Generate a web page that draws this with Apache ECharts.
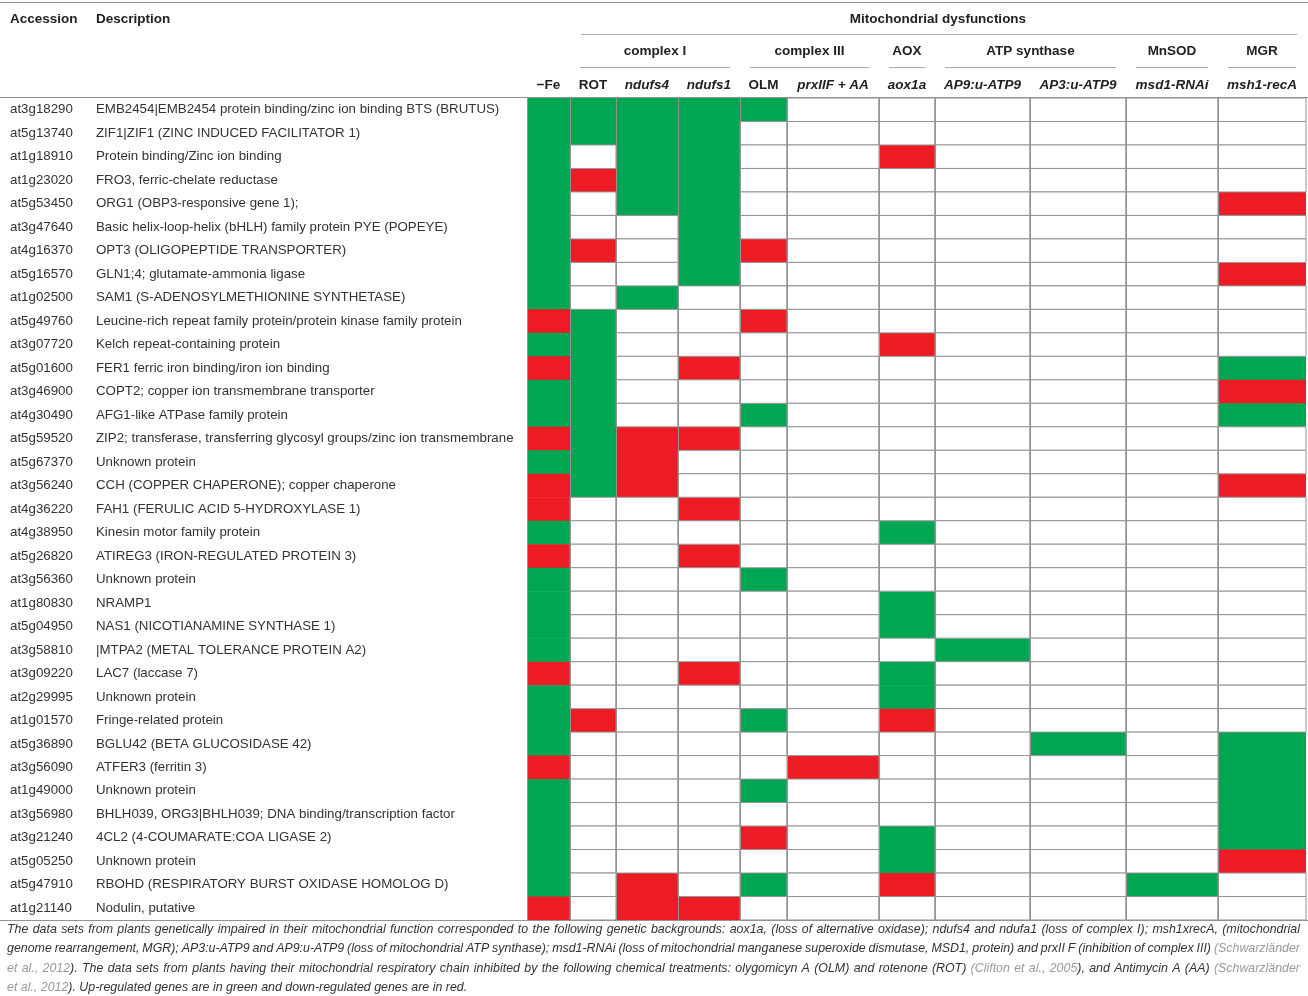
<!DOCTYPE html>
<html>
<head>
<meta charset="utf-8">
<title>Mitochondrial dysfunctions</title>
<script src="https://cdn.jsdelivr.net/npm/echarts@6/dist/echarts.min.js"></script>
<style>
html, body { margin: 0; padding: 0; background: #fff; }
#main { width: 1308px; height: 996px; }
</style>
</head>
<body>
<div id="main"></div>
<script>
// rows of the table
var accessions = [
    'at3g18290', 'at5g13740', 'at1g18910', 'at1g23020', 'at5g53450', 'at3g47640', 'at4g16370',
    'at5g16570', 'at1g02500', 'at5g49760', 'at3g07720', 'at5g01600', 'at3g46900', 'at4g30490',
    'at5g59520', 'at5g67370', 'at3g56240', 'at4g36220', 'at4g38950', 'at5g26820', 'at3g56360',
    'at1g80830', 'at5g04950', 'at3g58810', 'at3g09220', 'at2g29995', 'at1g01570', 'at5g36890',
    'at3g56090', 'at1g49000', 'at3g56980', 'at3g21240', 'at5g05250', 'at5g47910', 'at1g21140'
];
var descriptions = [
    'EMB2454|EMB2454 protein binding/zinc ion binding BTS (BRUTUS)',
    'ZIF1|ZIF1 (ZINC INDUCED FACILITATOR 1)',
    'Protein binding/Zinc ion binding',
    'FRO3, ferric-chelate reductase',
    'ORG1 (OBP3-responsive gene 1);',
    'Basic helix-loop-helix (bHLH) family protein PYE (POPEYE)',
    'OPT3 (OLIGOPEPTIDE TRANSPORTER)',
    'GLN1;4; glutamate-ammonia ligase',
    'SAM1 (S-ADENOSYLMETHIONINE SYNTHETASE)',
    'Leucine-rich repeat family protein/protein kinase family protein',
    'Kelch repeat-containing protein',
    'FER1 ferric iron binding/iron ion binding',
    'COPT2; copper ion transmembrane transporter',
    'AFG1-like ATPase family protein',
    'ZIP2; transferase, transferring glycosyl groups/zinc ion transmembrane',
    'Unknown protein',
    'CCH (COPPER CHAPERONE); copper chaperone',
    'FAH1 (FERULIC ACID 5-HYDROXYLASE 1)',
    'Kinesin motor family protein',
    'ATIREG3 (IRON-REGULATED PROTEIN 3)',
    'Unknown protein',
    'NRAMP1',
    'NAS1 (NICOTIANAMINE SYNTHASE 1)',
    '|MTPA2 (METAL TOLERANCE PROTEIN A2)',
    'LAC7 (laccase 7)',
    'Unknown protein',
    'Fringe-related protein',
    'BGLU42 (BETA GLUCOSIDASE 42)',
    'ATFER3 (ferritin 3)',
    'Unknown protein',
    'BHLH039, ORG3|BHLH039; DNA binding/transcription factor',
    '4CL2 (4-COUMARATE:COA LIGASE 2)',
    'Unknown protein',
    'RBOHD (RESPIRATORY BURST OXIDASE HOMOLOG D)',
    'Nodulin, putative'
];

// column headers
var columns = ['−Fe', 'ROT', 'ndufs4', 'ndufs1', 'OLM', 'prxIIF + AA', 'aox1a',
    'AP9:u-ATP9', 'AP3:u-ATP9', 'msd1-RNAi', 'msh1-recA'];
var italicColumns = [false, false, true, true, false, true, true, true, true, true, true];
var groupNames = ['complex I', 'complex III', 'AOX', 'ATP synthase', 'MnSOD', 'MGR'];
var groupFirst = [1, 4, 6, 7, 9, 10];
var groupLast  = [3, 5, 6, 8, 9, 10];

// 1 = up-regulated (green), -1 = down-regulated (red), 0 = no change
var fe     = [1, 1, 1, 1, 1, 1, 1, 1, 1, -1, 1, -1, 1, 1, -1, 1, -1, -1, 1, -1, 1, 1, 1, 1, -1, 1, 1, 1, -1, 1, 1, 1, 1, 1, -1];
var rot    = [1, 1, 0, -1, 0, 0, -1, 0, 0, 1, 1, 1, 1, 1, 1, 1, 1, 0, 0, 0, 0, 0, 0, 0, 0, 0, -1, 0, 0, 0, 0, 0, 0, 0, 0];
var ndufs4 = [1, 1, 1, 1, 1, 0, 0, 0, 1, 0, 0, 0, 0, 0, -1, -1, -1, 0, 0, 0, 0, 0, 0, 0, 0, 0, 0, 0, 0, 0, 0, 0, 0, -1, -1];
var ndufs1 = [1, 1, 1, 1, 1, 1, 1, 1, 0, 0, 0, -1, 0, 0, -1, 0, 0, -1, 0, -1, 0, 0, 0, 0, -1, 0, 0, 0, 0, 0, 0, 0, 0, 0, -1];
var olm    = [1, 0, 0, 0, 0, 0, -1, 0, 0, -1, 0, 0, 0, 1, 0, 0, 0, 0, 0, 0, 1, 0, 0, 0, 0, 0, 1, 0, 0, 1, 0, -1, 0, 1, 0];
var prxAA  = [0, 0, 0, 0, 0, 0, 0, 0, 0, 0, 0, 0, 0, 0, 0, 0, 0, 0, 0, 0, 0, 0, 0, 0, 0, 0, 0, 0, -1, 0, 0, 0, 0, 0, 0];
var aox1a  = [0, 0, -1, 0, 0, 0, 0, 0, 0, 0, -1, 0, 0, 0, 0, 0, 0, 0, 1, 0, 0, 1, 1, 0, 1, 1, -1, 0, 0, 0, 0, 1, 1, -1, 0];
var ap9    = [0, 0, 0, 0, 0, 0, 0, 0, 0, 0, 0, 0, 0, 0, 0, 0, 0, 0, 0, 0, 0, 0, 0, 1, 0, 0, 0, 0, 0, 0, 0, 0, 0, 0, 0];
var ap3    = [0, 0, 0, 0, 0, 0, 0, 0, 0, 0, 0, 0, 0, 0, 0, 0, 0, 0, 0, 0, 0, 0, 0, 0, 0, 0, 0, 1, 0, 0, 0, 0, 0, 0, 0];
var msd1   = [0, 0, 0, 0, 0, 0, 0, 0, 0, 0, 0, 0, 0, 0, 0, 0, 0, 0, 0, 0, 0, 0, 0, 0, 0, 0, 0, 0, 0, 0, 0, 0, 0, 1, 0];
var msh1   = [0, 0, 0, 0, -1, 0, 0, -1, 0, 0, 0, 1, -1, 1, 0, 0, -1, 0, 0, 0, 0, 0, 0, 0, 0, 0, 0, 1, 1, 1, 1, 1, -1, 0, 0];
var columnValues = [fe, rot, ndufs4, ndufs1, olm, prxAA, aox1a, ap9, ap3, msd1, msh1];

// caption, [text, isCitation]
var captionLines = [
    [['The data sets from plants genetically impaired in their mitochondrial function corresponded to the following genetic backgrounds: aox1a, (loss of alternative oxidase); ndufs4 and ndufa1 (loss of complex I); msh1xrecA, (mitochondrial', 0]],
    [['genome rearrangement, MGR); AP3:u-ATP9 and AP9:u-ATP9 (loss of mitochondrial ATP synthase); msd1-RNAi (loss of mitochondrial manganese superoxide dismutase, MSD1, protein) and prxII F (inhibition of complex III) ', 0], ['(Schwarzländer', 1]],
    [['et al., 2012', 1], ['). The data sets from plants having their mitochondrial respiratory chain inhibited by the following chemical treatments: olygomicyn A (OLM) and rotenone (ROT) ', 0], ['(Clifton et al., 2005', 1], ['), and Antimycin A (AA) ', 0], ['(Schwarzländer', 1]],
    [['et al., 2012', 1], ['). Up-regulated genes are in green and down-regulated genes are in red.', 0]]
];

// layout
var GRID_LEFT = 527, GRID_TOP = 98, GRID_BOTTOM = 920, W = 1308;
var colEdges = [0, 43, 89, 151, 213, 260, 352, 408, 503, 599, 691, 779];
var GREEN = '#00a651', RED = '#ed1c24', LINE = '#939393';
var FONT = '"Liberation Sans", Arial, sans-serif';
var TEXT = '#333';

var colored = [], blank = [];
columnValues.forEach(function (vals, c) {
    vals.forEach(function (v, r) {
        (v === 0 ? blank : colored).push([c, r, v]);
    });
});

function cellShape(api) {
    var c = api.value(0), r = api.value(1);
    var p0 = api.coord([colEdges[c], r]);
    var p1 = api.coord([colEdges[c + 1], r]);
    var h = api.size([0, 1])[1];
    return { x: p0[0], y: p0[1] - h / 2, width: p1[0] - p0[0], height: h };
}

function renderColored(params, api) {
    var s = cellShape(api);
    s.height += 0.6;
    return { type: 'rect', shape: s, style: { fill: api.value(2) > 0 ? GREEN : RED } };
}

function renderBlank(params, api) {
    return { type: 'rect', shape: cellShape(api), style: { fill: '#fff', stroke: LINE, lineWidth: 1 } };
}

function renderVLine(params, api) {
    var h = api.size([0, 1])[1];
    var top = api.coord([api.value(0), 0]);
    var bot = api.coord([api.value(0), accessions.length - 1]);
    var x = Math.round(top[0]) + 0.5;
    return {
        type: 'line',
        shape: { x1: x, y1: top[1] - h / 2, x2: x, y2: bot[1] + h / 2 },
        style: { stroke: LINE, lineWidth: 1 }
    };
}

function px(v) { return GRID_LEFT + v; }

var graphics = [];
function hline(x1, x2, y, color) {
    graphics.push({ type: 'line', shape: { x1: x1, y1: y + 0.5, x2: x2, y2: y + 0.5 },
        style: { stroke: color || LINE, lineWidth: 1 }, z: 10 });
}
function label(text, x, y, align, italic) {
    graphics.push({ type: 'text', x: x, y: y, z: 10, style: {
        text: text, fill: '#222', align: align, verticalAlign: 'middle',
        fontSize: 13.5, fontWeight: 'bold', fontStyle: italic ? 'italic' : 'normal', fontFamily: FONT
    } });
}

hline(0, W, 2);
hline(0, W, GRID_TOP - 1);
hline(0, W, GRID_BOTTOM);
label('Accession', 10, 19, 'left');
label('Description', 96, 19, 'left');
label('Mitochondrial dysfunctions', (px(colEdges[1]) + px(colEdges[11])) / 2, 19, 'center');
hline(px(colEdges[1]) + 11, px(colEdges[11]) - 9, 34, '#aaa');
groupNames.forEach(function (g, i) {
    var a = px(colEdges[groupFirst[i]]), b = px(colEdges[groupLast[i] + 1]);
    label(g, (a + b) / 2, 51, 'center');
    hline(a + 10, b - 10, 67, '#aaa');
});
columns.forEach(function (c, i) {
    label(c, (px(colEdges[i]) + px(colEdges[i + 1])) / 2, 85, 'center', italicColumns[i]);
});

// justified caption
var CAP_LEFT = 7, CAP_RIGHT = 1300, CAP_Y = [930, 949, 969, 988];
var CAP_SIZE = 12.4;
var ctx = document.createElement('canvas').getContext('2d');
ctx.font = 'italic ' + CAP_SIZE + 'px ' + FONT;
var capRich = {
    n: { fill: '#333', fontStyle: 'italic', fontSize: CAP_SIZE, fontFamily: FONT },
    c: { fill: '#9a9a9a', fontStyle: 'italic', fontSize: CAP_SIZE, fontFamily: FONT }
};
captionLines.forEach(function (segs, li) {
    var words = [[]];
    segs.forEach(function (seg) {
        seg[0].split(' ').forEach(function (piece, i) {
            if (i > 0) words.push([]);
            if (piece) words[words.length - 1].push([piece, seg[1]]);
        });
    });
    words = words.filter(function (w) { return w.length; });
    var widths = words.map(function (w) {
        return w.reduce(function (s, p) { return s + ctx.measureText(p[0]).width; }, 0);
    });
    var total = widths.reduce(function (a, b) { return a + b; }, 0);
    var last = li === captionLines.length - 1;
    var gap = last ? ctx.measureText(' ').width : (CAP_RIGHT - CAP_LEFT - total) / (words.length - 1);
    var x = CAP_LEFT;
    words.forEach(function (w, i) {
        graphics.push({ type: 'text', x: x, y: CAP_Y[li], z: 10, style: {
            text: w.map(function (p) { return '{' + (p[1] ? 'c' : 'n') + '|' + p[0] + '}'; }).join(''),
            rich: capRich, verticalAlign: 'middle', fontStyle: 'italic', fontSize: CAP_SIZE, fontFamily: FONT
        } });
        x += widths[i] + gap;
    });
});

var myChart = echarts.init(document.getElementById('main'));
myChart.setOption({
    animation: false,
    backgroundColor: '#fff',
    grid: { left: GRID_LEFT, right: W - GRID_LEFT - colEdges[11], top: GRID_TOP, bottom: 996 - GRID_BOTTOM },
    xAxis: { type: 'value', min: 0, max: colEdges[11], show: false },
    yAxis: [
        {
            type: 'category', data: accessions, inverse: true,
            axisLine: { show: false }, axisTick: { show: false }, splitLine: { show: false },
            axisLabel: { interval: 0, align: 'left', margin: GRID_LEFT - 10, color: TEXT, fontSize: 13.3, fontFamily: FONT }
        },
        {
            type: 'category', data: descriptions, inverse: true, position: 'left',
            axisLine: { show: false }, axisTick: { show: false }, splitLine: { show: false },
            axisLabel: { interval: 0, align: 'left', margin: GRID_LEFT - 96, color: TEXT, fontSize: 13.3, fontFamily: FONT }
        }
    ],
    series: [
        { type: 'custom', renderItem: renderColored, data: colored, encode: { x: 0, y: 1 }, silent: true },
        { type: 'custom', renderItem: renderBlank, data: blank, encode: { x: 0, y: 1 }, silent: true },
        { type: 'custom', renderItem: renderVLine, data: colEdges.slice(0, 11).map(function (e) { return [e]; }),
          encode: { x: 0 }, silent: true }
    ],
    graphic: graphics
});
</script>
</body>
</html>
